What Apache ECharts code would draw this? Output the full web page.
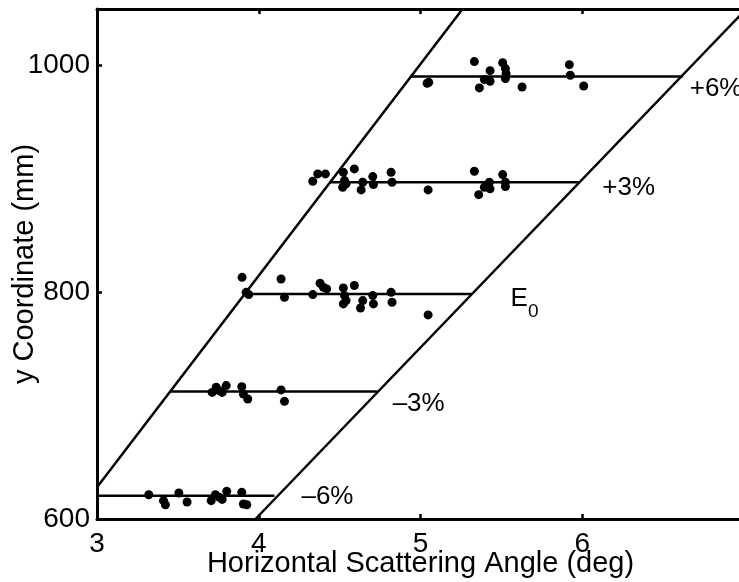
<!DOCTYPE html>
<html>
<head>
<meta charset="utf-8">
<script src="https://cdn.jsdelivr.net/npm/echarts@6/dist/echarts.min.js"></script>
<style>
  html, body { margin: 0; padding: 0; background: #fff; }
  #chart { width: 739px; height: 582px; }
</style>
</head>
<body>
<div id="chart"></div>
<script>
// Axis ranges and labelled ticks
const xTicks = [3, 4, 5, 6];
const yTicks = [600, 800, 1000];
const xRange = [3, 7];
const yRange = [600, 1050];

// Acceptance boundaries (two slanted lines)
const leftEdge = [[3.0, 628], [5.26, 1050]];
const rightEdge = [[3.98, 600], [7.0, 1048]];

// Momentum settings: label, y level, start angle, end angle
const levelNames = ['–6%', '–3%', 'E0', '+3%', '+6%'];
const levelY = [620.6, 712.4, 798.6, 897.1, 990.4];
const levelStart = [3.0, 3.45, 3.915, 4.44, 4.94];
const levelEnd = [4.097, 4.735, 5.316, 5.982, 6.621];

// Measured hits for each setting
const hitsM6 = [[3.320, 621.4], [3.411, 616.2], [3.423, 612.6], [3.506, 622.9], [3.557, 615.0],
  [3.706, 616.2], [3.732, 621.4], [3.757, 619.1], [3.774, 617.3], [3.802, 624.4],
  [3.895, 623.5], [3.905, 613.2], [3.926, 612.6]];
const hitsM3 = [[3.712, 711.7], [3.737, 716.2], [3.757, 713.2], [3.774, 711.7], [3.799, 717.7],
  [3.895, 716.8], [3.905, 710.3], [3.932, 705.9], [4.138, 713.9], [4.159, 703.8]];
const hitsE0 = [[3.897, 813.2], [3.922, 800.0], [3.938, 798.0], [4.138, 811.8], [4.159, 795.6],
  [4.334, 798.0], [4.379, 808.0], [4.400, 804.4], [4.420, 803.0], [4.523, 803.9],
  [4.530, 797.1], [4.523, 789.8], [4.540, 792.7], [4.591, 806.0], [4.643, 792.7],
  [4.629, 786.2], [4.705, 797.1], [4.709, 789.8], [4.818, 800.0], [4.824, 791.2],
  [5.047, 780.1]];
const hitsP3 = [[4.334, 898.0], [4.365, 904.5], [4.412, 904.5], [4.523, 905.9], [4.530, 898.6],
  [4.519, 892.7], [4.540, 895.7], [4.591, 908.9], [4.633, 890.4], [4.643, 897.1],
  [4.705, 902.1], [4.709, 895.1], [4.818, 905.9], [4.824, 897.1], [5.047, 890.4],
  [5.333, 906.8], [5.360, 886.2], [5.395, 892.7], [5.426, 897.1], [5.430, 891.3],
  [5.508, 903.9], [5.525, 897.1], [5.525, 893.3]];
const hitsP6 = [[5.051, 985.3], [5.041, 984.5], [5.333, 1003.6], [5.364, 980.4], [5.395, 987.7],
  [5.430, 995.6], [5.430, 986.2], [5.508, 1002.6], [5.525, 997.4], [5.529, 993.0],
  [5.525, 988.6], [5.628, 981.2], [5.920, 1000.9], [5.926, 991.5], [6.009, 982.1]];

const FONT = '"Liberation Sans", Arial, Helvetica, sans-serif';
const INK = '#000';

// Label placement next to the right end of each level line
const labelOffsets = [[27, 1], [15, 12], [39, 7], [23, 6], [7, 12]];

const chart = echarts.init(document.getElementById('chart'), null, { renderer: 'canvas' });

const lineSeries = (data, extra) => Object.assign({
  type: 'line',
  data: data,
  symbol: 'none',
  silent: true,
  clip: true,
  lineStyle: { color: INK, width: 2.5 },
  z: 3
}, extra || {});

const series = [];
series.push(lineSeries(leftEdge));
series.push(lineSeries(rightEdge));

levelNames.forEach((name, i) => {
  const isE0 = name === 'E0';
  series.push(lineSeries([[levelStart[i], levelY[i]], [levelEnd[i], levelY[i]]], {
    endLabel: {
      show: true,
      distance: 0,
      offset: labelOffsets[i],
      color: INK,
      fontFamily: FONT,
      fontSize: 26,
      formatter: isE0 ? '{e|E}{s|0}' : name,
      rich: isE0 ? {
        e: { fontFamily: FONT, fontSize: 26, color: INK, verticalAlign: 'top', lineHeight: 30 },
        s: { fontFamily: FONT, fontSize: 19, color: INK, verticalAlign: 'top', lineHeight: 22, padding: [16, 0, 0, 0] }
      } : undefined
    }
  }));
});

[hitsM6, hitsM3, hitsE0, hitsP3, hitsP6].forEach(pts => {
  series.push({
    type: 'scatter',
    data: pts,
    symbol: 'circle',
    symbolSize: 9,
    silent: true,
    itemStyle: { color: INK, opacity: 1 },
    z: 4
  });
});

const axisLineStyle = { color: INK, width: 3 };
const tickStyle = { show: true, inside: true, length: 5, lineStyle: { color: INK, width: 2.5 } };

chart.setOption({
  animation: false,
  backgroundColor: '#fff',
  grid: {
    left: 97, top: 9, width: 647, height: 510,
    containLabel: false,
    outerBoundsMode: 'none'
  },
  xAxis: [{
    type: 'value',
    min: xRange[0], max: xRange[1], interval: 1,
    name: 'Horizontal Scattering Angle (deg)',
    nameLocation: 'middle',
    nameGap: 30,
    nameMoveOverlap: false,
    nameTextStyle: { fontFamily: FONT, fontSize: 29, color: INK },
    axisLine: { show: true, onZero: false, lineStyle: axisLineStyle },
    axisTick: tickStyle,
    axisLabel: {
      color: INK, fontFamily: FONT, fontSize: 28, margin: 11,
      formatter: v => xTicks.includes(v) ? String(v) : ''
    },
    splitLine: { show: false }
  }, {
    type: 'value',
    position: 'top',
    min: xRange[0], max: xRange[1], interval: 1,
    axisLine: { show: true, onZero: false, lineStyle: axisLineStyle },
    axisTick: tickStyle,
    axisLabel: { show: false },
    splitLine: { show: false }
  }],
  yAxis: [{
    type: 'value',
    min: yRange[0], max: yRange[1], interval: 200,
    name: 'y Coordinate (mm)',
    nameLocation: 'middle',
    nameGap: 58,
    nameMoveOverlap: false,
    nameTextStyle: { fontFamily: FONT, fontSize: 29, color: INK },
    axisLine: { show: true, onZero: false, lineStyle: axisLineStyle },
    axisTick: tickStyle,
    axisLabel: {
      color: INK, fontFamily: FONT, fontSize: 28, margin: 7,
      formatter: v => yTicks.includes(v) ? String(v) : ''
    },
    splitLine: { show: false }
  }],
  series: series
});
</script>
</body>
</html>
